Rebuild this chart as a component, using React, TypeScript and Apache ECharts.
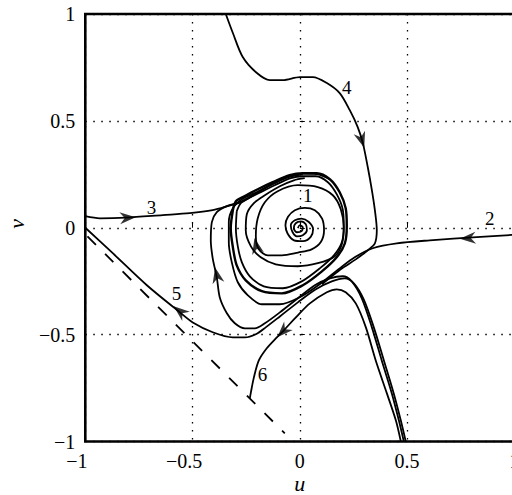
import React, { useEffect, useRef } from 'react';
import * as echarts from 'echarts';

// axis ticks
const uTicks = [-1, -0.5, 0, 0.5, 1];
const vTicks = [-1, -0.5, 0, 0.5, 1];

// limit cycle (bundle of converged trajectories)
const limitCycleOuter: number[][] = [
  [-0.312, 0.082], [-0.298, 0.124], [-0.256, 0.148], [-0.196, 0.18], [-0.126, 0.213], [-0.047, 0.246],
  [0.014, 0.255], [0.079, 0.255], [0.14, 0.227], [0.186, 0.166], [0.214, 0.091], [0.219, 0.007],
  [0.21, -0.073], [0.172, -0.138], [0.103, -0.204], [0.014, -0.269], [-0.084, -0.307], [-0.177, -0.297],
  [-0.252, -0.246], [-0.294, -0.176], [-0.312, -0.091], [-0.322, -0.002], [-0.312, 0.082],
];
const limitCycleInner: number[][] = [
  [-0.294, 0.077], [-0.275, 0.115], [-0.238, 0.138], [-0.182, 0.166], [-0.117, 0.199], [-0.042, 0.232],
  [0.014, 0.241], [0.075, 0.241], [0.131, 0.213], [0.172, 0.157], [0.2, 0.087], [0.205, 0.007],
  [0.196, -0.068], [0.159, -0.129], [0.093, -0.19], [0.009, -0.251], [-0.079, -0.283], [-0.168, -0.274],
  [-0.233, -0.227], [-0.27, -0.162], [-0.289, -0.087], [-0.298, -0.002], [-0.294, 0.077],
];

// trajectory 1: spiral out of the origin
const traj1: number[][] = [
  [-0.009, -0.002], [0, 0.012], [0.014, 0.002], [0.009, -0.016], [-0.014, -0.021], [-0.028, -0.002],
  [-0.019, 0.021], [0.005, 0.03], [0.028, 0.016], [0.033, -0.012], [0.014, -0.035], [-0.014, -0.04],
  [-0.034, -0.02], [-0.042, 0.012], [-0.023, 0.035], [0.008, 0.043], [0.042, 0.027], [0.062, -0.007],
  [0.051, -0.043], [0.015, -0.063], [-0.027, -0.059], [-0.057, -0.027], [-0.067, 0.012], [-0.055, 0.051],
  [-0.023, 0.082], [0.023, 0.093], [0.07, 0.082], [0.104, 0.043], [0.113, -0.012], [0.098, -0.067],
  [0.055, -0.101], [-0.008, -0.116], [-0.084, -0.129], [-0.149, -0.129], [-0.191, -0.101], [-0.205, -0.04],
  [-0.196, 0.044], [-0.163, 0.119], [-0.103, 0.171], [-0.009, 0.199], [0.084, 0.19], [0.154, 0.152],
  [0.191, 0.087], [0.205, 0.002], [0.196, -0.077], [0.163, -0.133], [0.084, -0.166], [-0.009, -0.18],
  [-0.112, -0.171], [-0.182, -0.138], [-0.228, -0.087], [-0.252, -0.012], [-0.247, 0.063], [-0.214, 0.115],
  [-0.163, 0.152], [-0.093, 0.194], [-0.028, 0.222], [0.023, 0.232],
];

// trajectory 2: from the right edge
const traj2: number[][] = [
  [1.0, -0.033], [0.825, -0.044], [0.606, -0.059], [0.452, -0.073], [0.34, -0.096], [0.256, -0.138],
  [0.186, -0.19], [0.093, -0.264], [0, -0.325], [-0.093, -0.358], [-0.177, -0.358], [-0.242, -0.316],
  [-0.289, -0.255], [-0.317, -0.162], [-0.331, -0.068], [-0.331, 0.026], [-0.312, 0.091], [-0.27, 0.133],
  [-0.21, 0.162], [-0.14, 0.199], [-0.056, 0.236], [0.014, 0.25],
];

// trajectory 3: from the left edge
const traj3: number[][] = [
  [-1.0, 0.054], [-0.932, 0.044], [-0.811, 0.047], [-0.639, 0.059], [-0.513, 0.068], [-0.406, 0.082],
  [-0.336, 0.101], [-0.28, 0.119], [-0.224, 0.148], [-0.177, 0.176], [-0.117, 0.208], [-0.047, 0.241],
  [0.014, 0.253], [0.079, 0.251], [0.14, 0.227],
];

// trajectory rising from the bottom and entering the cycle from the left
const traj3b: number[][] = [
  [0.485, -1.0], [0.462, -0.902], [0.429, -0.775], [0.382, -0.621], [0.336, -0.466], [0.289, -0.33],
  [0.242, -0.251], [0.2, -0.227], [0.14, -0.237], [0.07, -0.269], [-0.009, -0.33], [-0.093, -0.396],
  [-0.163, -0.447], [-0.21, -0.471], [-0.256, -0.471], [-0.303, -0.447], [-0.34, -0.4], [-0.373, -0.326],
  [-0.387, -0.232], [-0.406, -0.143], [-0.415, -0.059], [-0.41, 0.026], [-0.387, 0.073], [-0.34, 0.101],
  [-0.28, 0.119], [-0.224, 0.148],
];

// trajectory 4: from the top edge
const traj4: number[][] = [
  [-0.345, 1.0], [-0.312, 0.911], [-0.266, 0.799], [-0.2, 0.724], [-0.14, 0.691], [-0.079, 0.691],
  [0, 0.705], [0.061, 0.705], [0.126, 0.677], [0.186, 0.63], [0.233, 0.55], [0.27, 0.471],
  [0.294, 0.396], [0.317, 0.283], [0.336, 0.176], [0.35, 0.082], [0.359, -0.012], [0.35, -0.073],
  [0.317, -0.105], [0.261, -0.148], [0.191, -0.194], [0.103, -0.264],
];

// trajectory 5: ends at (-1, 0)
const traj5: number[][] = [
  [0.494, -1.0], [0.471, -0.902], [0.438, -0.775], [0.392, -0.621], [0.345, -0.466], [0.298, -0.335],
  [0.252, -0.26], [0.21, -0.237], [0.149, -0.251], [0.075, -0.288], [-0.009, -0.349], [-0.093, -0.415],
  [-0.159, -0.466], [-0.205, -0.498], [-0.256, -0.513], [-0.312, -0.513], [-0.406, -0.489], [-0.499, -0.443],
  [-0.559, -0.396], [-0.713, -0.269], [-0.872, -0.119], [-1.0, 0],
];

// trajectory 6: ends on the dashed line
const traj6: number[][] = [
  [0.471, -1.0], [0.448, -0.902], [0.406, -0.775], [0.354, -0.621], [0.308, -0.466], [0.261, -0.354],
  [0.214, -0.302], [0.172, -0.288], [0.126, -0.302], [0.047, -0.354], [-0.023, -0.424], [-0.07, -0.475],
  [-0.107, -0.513], [-0.154, -0.564], [-0.191, -0.621], [-0.214, -0.7], [-0.228, -0.77], [-0.233, -0.798],
];

// dashed line
const dashedLine: number[][] = [[-0.99, -0.04], [-0.07, -0.962]];

// trajectory labels
const labelNames = ['1', '2', '3', '4', '5', '6'];
const labelPos: number[][] = [
  [0.037, 0.152], [0.886, 0.044], [-0.691, 0.097], [0.219, 0.658], [-0.575, -0.308], [-0.174, -0.686],
];

// arrow positions on trajectories
const arrowCurves = ['1', '2', '3', '3b', '4', '5', '6'];
const arrowPos: number[][] = [
  [-0.203, -0.085], [0.783, -0.049], [-0.802, 0.047], [-0.387, -0.222], [0.289, 0.41], [-0.559, -0.391], [-0.079, -0.485],
];

const curves: Record<string, number[][]> = {
  '1': traj1, '2': traj2, '3': traj3, '3b': traj3b, '4': traj4, '5': traj5, '6': traj6,
};

const SERIF = '"Liberation Serif", "Times New Roman", serif';
const fmt = (v: number) => (v < 0 ? '\u2212' : '') + String(Math.abs(v));

export default function App() {
  const ref = useRef<HTMLDivElement>(null);
  useEffect(() => {
    const chart = echarts.init(ref.current!, undefined, { renderer: 'svg' });
    const line = (name: string, data: number[][], width: number, extra: any = {}) => ({
      type: 'line', name, data, showSymbol: false, symbol: 'none', smooth: 0.3, silent: true,
      clip: true, z: 3, lineStyle: { color: '#000', width, ...extra },
    });
    const option: any = {
      animation: false,
      backgroundColor: '#fff',
      grid: {
        left: 85.3, top: 14, width: 429, height: 427.5, show: true, borderColor: '#000', borderWidth: 2.6, z: 10,
        outerBoundsMode: 'none', containLabel: false,
      },
      xAxis: {
        type: 'value', min: -1, max: 1, interval: 0.5,
        name: 'u', nameLocation: 'middle', nameGap: 31, nameMoveOverlap: false,
        nameTextStyle: { fontFamily: SERIF, fontStyle: 'italic', fontSize: 22, lineHeight: 22, color: '#000' },
        axisLine: { show: false },
        axisTick: { show: true, inside: true, length: 5, lineStyle: { color: '#000', width: 1 } },
        axisLabel: {
          margin: 9, color: '#000', fontFamily: SERIF, fontSize: 20,
          formatter: (v: number) => (v < 0 ? '{n|' + fmt(v) + '}' : '{p|' + fmt(v) + '}'),
          rich: {
            n: { fontFamily: SERIF, fontSize: 20, color: '#000', padding: [0, 17, 0, 0] },
            p: { fontFamily: SERIF, fontSize: 20, color: '#000' },
          },
        },
        splitLine: { show: true, lineStyle: { color: '#000', width: 1.3, type: [1.5, 6.5] } },
      },
      yAxis: {
        type: 'value', min: -1, max: 1, interval: 0.5,
        name: 'v', nameLocation: 'middle', nameGap: 58, nameMoveOverlap: false,
        nameTextStyle: { fontFamily: SERIF, fontStyle: 'italic', fontSize: 22, color: '#000', padding: [0, 0, 0, 8] },
        axisLine: { show: false },
        axisTick: { show: true, inside: true, length: 5, lineStyle: { color: '#000', width: 1 } },
        axisLabel: { margin: 10, color: '#000', fontFamily: SERIF, fontSize: 20, formatter: fmt },
        splitLine: { show: true, lineStyle: { color: '#000', width: 1.3, type: [1.5, 6.5] } },
      },
      series: [
        line('dashed', dashedLine, 1.8, { type: [12, 13] }),
        line('limit cycle', limitCycleOuter, 2.4),
        line('limit cycle inner', limitCycleInner, 1.8),
        line('1', traj1, 1.8),
        line('2', traj2, 1.8),
        line('3', traj3, 1.8),
        line('3b', traj3b, 1.8),
        line('4', traj4, 1.8),
        line('5', traj5, 1.8),
        line('6', traj6, 1.8),
      ],
    };
    chart.setOption(option);

    // arrow heads oriented along the trajectory
    const arrowData = arrowPos.map((at, k) => {
      const pts = curves[arrowCurves[k]];
      let best = 0;
      let bestD = Infinity;
      for (let i = 0; i < pts.length - 1; i++) {
        const [x1, y1] = pts[i];
        const [x2, y2] = pts[i + 1];
        const dx = x2 - x1, dy = y2 - y1;
        const L = dx * dx + dy * dy || 1e-9;
        let t = ((at[0] - x1) * dx + (at[1] - y1) * dy) / L;
        t = Math.max(0, Math.min(1, t));
        const px = x1 + t * dx - at[0], py = y1 + t * dy - at[1];
        const d = px * px + py * py;
        if (d < bestD) { bestD = d; best = i; }
      }
      const p1 = chart.convertToPixel({ gridIndex: 0 }, pts[best]) as number[];
      const p2 = chart.convertToPixel({ gridIndex: 0 }, pts[best + 1]) as number[];
      const ang = (Math.atan2(-(p2[1] - p1[1]), p2[0] - p1[0]) * 180) / Math.PI;
      return { value: at, symbolRotate: ang - 90 };
    });
    const labelGraphics = labelNames.map((name, k) => {
      const p = chart.convertToPixel({ gridIndex: 0 }, labelPos[k]) as number[];
      return {
        type: 'text', x: p[0], y: p[1], silent: true, z: 20,
        style: { text: name, fill: '#000', font: '19px ' + SERIF, align: 'center', verticalAlign: 'middle' },
      };
    });
    chart.setOption({
      series: [
        ...option.series,
        {
          type: 'scatter', name: 'arrows', data: arrowData, silent: true, z: 7,
          symbol: 'path://M0,0 L6,16 L0,11 L-6,16 Z', symbolSize: [12, 16], symbolKeepAspect: false,
          itemStyle: { color: '#000' },
        },
      ],
      graphic: labelGraphics,
    });
    return () => chart.dispose();
  }, []);
  return (
    <div
      ref={ref}
      style={{ position: 'fixed', left: 0, top: 0, width: 512, height: 495, background: '#fff', overflow: 'hidden' }}
    />
  );
}
